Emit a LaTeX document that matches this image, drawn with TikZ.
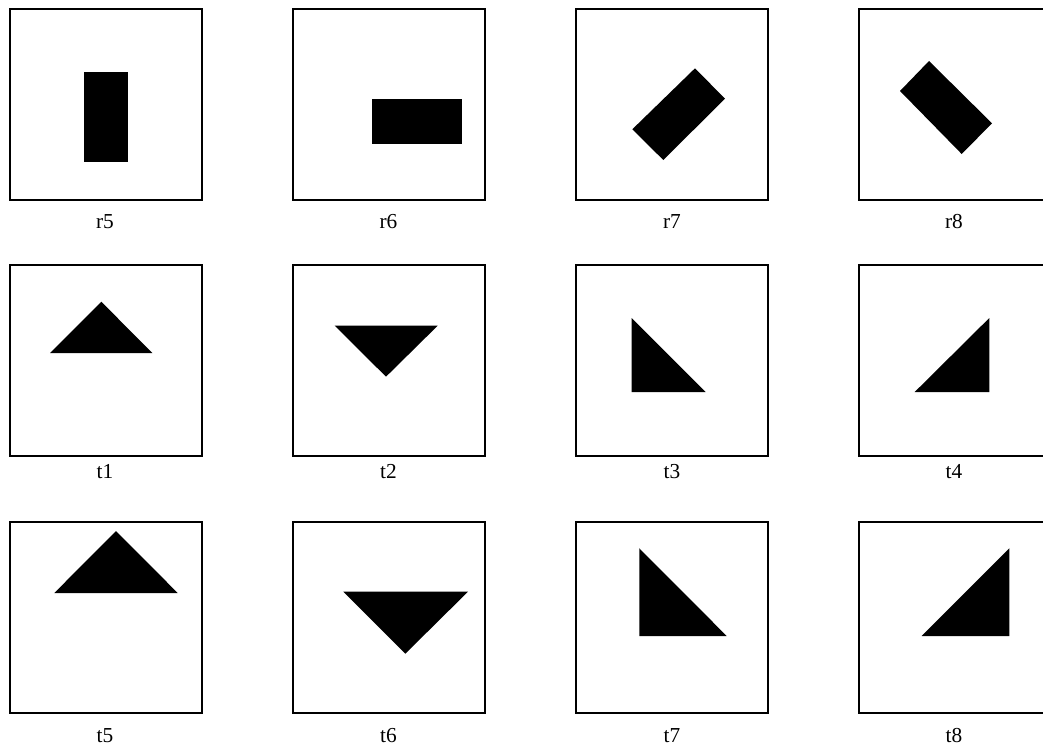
\documentclass[tikz,border=0pt]{standalone}
\usepackage{fontspec}
\setmainfont{Liberation Serif}
\usepackage{tikz}

\begin{document}
\begin{tikzpicture}[x=0.75pt,y=-0.75pt,
                    every node/.style={font=\fontsize{16}{18}\selectfont},
                    frame/.style={line width=1.5pt},
                    solid shape/.style={fill=black}]
    \useasboundingbox (0,0) rectangle (1043,749);
    \clip (0,0) rectangle (1043,749);
    % frames, 4 columns x 3 rows
    \foreach \x in {10,293,576,859}
      \foreach \y in {9,265,522}
        \draw[frame] (\x,\y) rectangle ++(191.5,191);
    % rectangles
    \fill[solid shape] (84,72) rectangle (128,161.5);
    \fill[solid shape] (372,99.5) rectangle (462,144);
    \fill[solid shape] (695,68.3)--(725,98.7)--(663.3,160)--(632.3,129.3)--cycle;
    \fill[solid shape] (929,61)--(992,123.3)--(961.7,154)--(900,91)--cycle;
    % triangles
    \fill[solid shape] (101.3,301.7)--(152.3,353)--(50,353)--cycle;
    \fill[solid shape] (334.7,325.7)--(437.7,325.7)--(386,376.7)--cycle;
    \fill[solid shape] (631.7,318)--(705.7,392)--(631.7,392)--cycle;
    \fill[solid shape] (989.3,318)--(989.3,392)--(914.7,392)--cycle;
    \fill[solid shape] (116,531)--(177.7,593)--(54.3,593)--cycle;
    \fill[solid shape] (343.3,591.7)--(468,591.7)--(405.3,653.7)--cycle;
    \fill[solid shape] (639.3,548.3)--(726.7,636)--(639.3,636)--cycle;
    \fill[solid shape] (1009.3,548.3)--(1009.3,636)--(921.7,636)--cycle;
    % labels
    \node (lr5) at (105,221.5) {r5};
    \node (lr6) at (388.5,221.5) {r6};
    \node (lr7) at (672,221.5) {r7};
    \node (lr8) at (954,221.5) {r8};
    \node (lt1) at (105,472) {t1};
    \node (lt2) at (388.5,472) {t2};
    \node (lt3) at (672,472) {t3};
    \node (lt4) at (954,472) {t4};
    \node (lt5) at (105,736) {t5};
    \node (lt6) at (388.5,736) {t6};
    \node (lt7) at (672,736) {t7};
    \node (lt8) at (954,736) {t8};
  \end{tikzpicture}
\end{document}
